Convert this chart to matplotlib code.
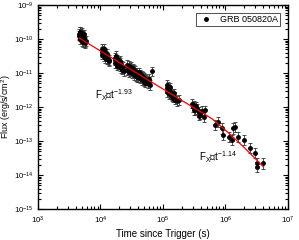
import numpy as np
import matplotlib
matplotlib.use("Agg")
import matplotlib.pyplot as plt
from matplotlib.ticker import LogLocator, NullFormatter
from matplotlib.lines import Line2D

plt.rcParams['font.family'] = ['Liberation Sans', 'DejaVu Sans']
plt.rcParams['mathtext.fontset'] = 'custom'
plt.rcParams['mathtext.rm'] = 'Liberation Sans'
plt.rcParams['mathtext.it'] = 'Liberation Sans'
plt.rcParams['mathtext.bf'] = 'Liberation Sans'

# ---- data (log10 time, log10 flux) ----
c1_logt = [3.65, 3.66, 3.67, 3.67, 3.68, 3.68, 3.69, 3.69, 3.70, 3.70, 3.71, 3.71, 3.72, 3.72, 3.73, 3.74, 3.74, 3.75, 3.76, 3.77]
c1_logf = [-9.90, -9.85, -9.92, -9.78, -9.80, -10.00, -9.95, -9.84, -9.88, -10.05, -9.98, -9.82, -9.90, -10.10, -10.02, -9.96, -9.86, -10.08, -10.12, -10.05]

c2_logt = [4.02, 4.03, 4.03, 4.04, 4.05, 4.05, 4.06, 4.06, 4.07, 4.08, 4.08, 4.09, 4.10, 4.10, 4.11, 4.12, 4.13, 4.14]
c2_logf = [-10.30, -10.38, -10.46, -10.35, -10.45, -10.28, -10.50, -10.36, -10.40, -10.55, -10.42, -10.48, -10.60, -10.44, -10.52, -10.58, -10.66, -10.62]

c3_logt = [4.23, 4.24, 4.24, 4.25, 4.26, 4.27, 4.27, 4.28, 4.29, 4.30, 4.31, 4.31, 4.32, 4.33, 4.34, 4.35, 4.36, 4.37]
c3_logf = [-10.55, -10.62, -10.70, -10.50, -10.68, -10.60, -10.78, -10.75, -10.66, -10.72, -10.80, -10.64, -10.70, -10.85, -10.78, -10.90, -10.82, -10.95]

c4_logt = [4.42, 4.43, 4.44, 4.45, 4.46, 4.47, 4.48, 4.49, 4.50, 4.51, 4.52, 4.53, 4.54, 4.55, 4.56, 4.57, 4.58,
           4.59, 4.60, 4.61, 4.62, 4.63, 4.64, 4.65, 4.66, 4.67, 4.68, 4.69, 4.70, 4.71, 4.72, 4.73, 4.74,
           4.76, 4.77, 4.78, 4.80, 4.82]
c4_logf = [-10.75, -10.92, -10.88, -10.80, -10.98, -10.95, -10.85, -10.82, -10.92, -11.00, -10.88, -10.90, -11.05, -10.94, -10.98, -11.08, -11.12,
           -11.00, -11.12, -10.98, -11.05, -11.15, -11.04, -11.10, -11.20, -11.08, -11.12, -11.25, -11.15, -11.18, -11.28, -11.20, -11.22,
           -11.30, -11.18, -11.25, -11.35, -10.95]

c5_logt = [5.06, 5.07, 5.07, 5.08, 5.09, 5.10, 5.10, 5.11, 5.12, 5.12, 5.13, 5.14, 5.15, 5.16, 5.17, 5.18, 5.20, 5.22, 5.25]
c5_logf = [-11.35, -11.45, -11.55, -11.40, -11.52, -11.48, -11.62, -11.58, -11.55, -11.42, -11.62, -11.68, -11.65, -11.72, -11.60, -11.70, -11.78, -11.82, -11.80]

c6_logt = [5.46, 5.48, 5.49, 5.50, 5.52, 5.53, 5.55, 5.57, 5.58, 5.60, 5.62, 5.65, 5.67]
c6_logf = [-11.90, -12.00, -12.08, -11.95, -12.10, -11.98, -12.05, -12.15, -12.25, -12.20, -12.12, -12.30, -12.10]

late_logt = [5.83, 5.88, 5.94, 5.96, 6.06, 6.10, 6.12, 6.15, 6.20, 6.30, 6.39, 6.47, 6.51, 6.60, 6.51]
late_logf = [-12.53, -12.44, -12.63, -12.82, -12.87, -12.97, -12.63, -12.58, -12.87, -12.97, -13.21, -13.36, -13.64, -13.66, -13.76]

# error sizes (dex) per group
err_early = 0.14
err_late = 0.15

# fitted model curve
fit_logt = [3.66, 4.79, 5.79, 6.05, 6.30, 6.61]
fit_logf = [-9.97, -11.235, -12.35, -12.76, -13.19, -13.76]

x_ticks_exp = [3, 4, 5, 6, 7]
y_ticks_exp = [-15, -14, -13, -12, -11, -10, -9]

# ---- build ----
early_logt = c1_logt + c2_logt + c3_logt + c4_logt + c5_logt + c6_logt
early_logf = c1_logf + c2_logf + c3_logf + c4_logf + c5_logf + c6_logf

fig = plt.figure(figsize=(2.99, 2.40), dpi=100)
ax = fig.add_axes([0.127, 0.129, 0.836, 0.85])

def draw(lt, lf, e):
    t = 10 ** np.array(lt)
    f = 10 ** np.array(lf)
    lo = f * (1 - 10 ** (-e))
    hi = f * (10 ** e - 1)
    ax.errorbar(t, f, yerr=[lo, hi], fmt='o', color='black', ms=2.5,
                elinewidth=0.6, capsize=1.6, capthick=0.6, ecolor='#333333')

draw(early_logt, early_logf, err_early)
draw(late_logt, late_logf, err_late)

ax.plot(10 ** np.array(fit_logt), 10 ** np.array(fit_logf), color='red', lw=0.9, zorder=5)

ax.set_xscale('log')
ax.set_yscale('log')
ax.set_xlim(1e3, 1e7)
ax.set_ylim(1e-15, 1e-9)
ax.set_xticks([10.0 ** k for k in x_ticks_exp])
ax.set_yticks([10.0 ** k for k in y_ticks_exp])
ax.set_xticklabels([f'10$^{{{k}}}$' for k in x_ticks_exp])
ax.set_yticklabels([f'10$^{{{k}}}$' for k in y_ticks_exp])
ax.xaxis.set_minor_locator(LogLocator(base=10, subs=np.arange(2, 10), numticks=20))
ax.yaxis.set_minor_locator(LogLocator(base=10, subs=np.arange(2, 10), numticks=20))
ax.xaxis.set_minor_formatter(NullFormatter())
ax.yaxis.set_minor_formatter(NullFormatter())
ax.tick_params(which='both', direction='in', top=True, right=True, labelsize=5.6, width=0.8)
ax.tick_params(which='major', length=3.5, pad=4)
ax.tick_params(axis='y', which='major', pad=3)
ax.tick_params(which='minor', length=2)
for s in ax.spines.values():
    s.set_linewidth(1.0)

ax.set_xlabel('Time since Trigger (s)', fontsize=7, labelpad=2)
ax.set_ylabel('Flux (erg/s/cm$^2$)', fontsize=6.4)
ax.yaxis.set_label_coords(-0.098, 0.5)

ax.text(10 ** 3.92, 10 ** -11.78, 'F$_X$\u221dt$^{-1.93}$', fontsize=7)
ax.text(10 ** 5.57, 10 ** -13.58, 'F$_X$\u221dt$^{-1.14}$', fontsize=7)

handle = Line2D([], [], marker='o', ls='none', color='black', ms=2.5)
leg = ax.legend([handle], ['GRB 050820A'], loc='upper right', fontsize=6.5, frameon=True, fancybox=False,
                edgecolor='black', borderpad=0.2, handlelength=1.8, handletextpad=0.7,
                borderaxespad=0.9)
leg.get_frame().set_linewidth(0.6)

fig.savefig('out.png', dpi=100)
